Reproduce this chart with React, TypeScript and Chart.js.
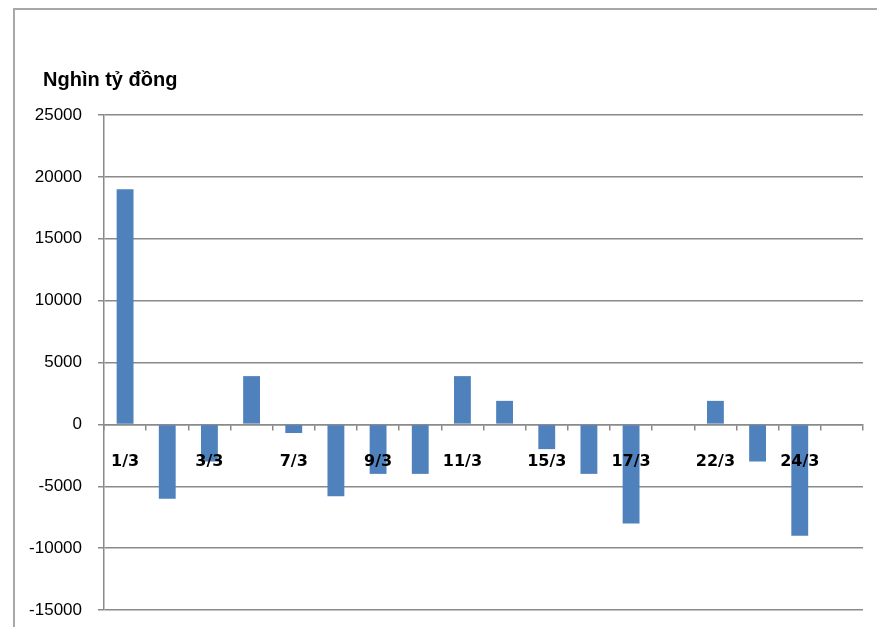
import React, { useEffect, useRef } from 'react';
import { Chart, registerables } from 'chart.js';

Chart.register(...registerables);

// Category labels (only every other trading day is labelled on the axis)
const categories: string[] = [
  '1/3', '', '3/3', '', '7/3', '', '9/3', '', '11/3', '', '15/3', '', '17/3', '', '22/3', '', '24/3', '',
];

// Net values, thousand billion VND
const values: (number | null)[] = [
  19000, -6000, -3000, 3900, -700, -5800, -4000, -4000, 3900, 1900, -2000, -4000, -8000, null, 1900, -3000, -9000, null,
];

const yMin = -15000;
const yMax = 25000;
const yStep = 5000;

const titleText = 'Nghìn tỷ đồng';

const GRID = '#8a8a8a';

// Let the y-axis labels extend to the left of the axis box without being clipped
const unclipYLabels = {
  id: 'unclipYLabels',
  afterLayout(chart: any) {
    const y = chart.scales.y;
    if (y) y.left = 0;
  },
};

export default function App() {
  const canvasRef = useRef<HTMLCanvasElement | null>(null);

  useEffect(() => {
    if (!canvasRef.current) return;
    const chart = new Chart(canvasRef.current, {
      type: 'bar',
      data: {
        labels: categories,
        datasets: [
          {
            data: values,
            backgroundColor: '#4F81BD',
            borderWidth: 0,
            barPercentage: 0.4,
            categoryPercentage: 1,
          },
        ],
      },
      options: {
        responsive: false,
        animation: false,
        layout: { padding: { left: 43, top: 50, right: 14, bottom: 17 } },
        plugins: {
          legend: { display: false },
          tooltip: { enabled: false },
          title: {
            display: true,
            text: titleText,
            align: 'start',
            color: '#000',
            font: { family: 'Liberation Sans', size: 20, weight: 'bold' },
            padding: { top: 18, bottom: 23 },
          },
        },
        scales: {
          x: {
            position: { y: 0 } as any,
            grid: {
              display: true,
              drawOnChartArea: false,
              drawTicks: true,
              tickLength: 5,
              color: GRID,
              lineWidth: 1.5,
              offset: true,
            },
            border: { display: true, color: GRID, width: 1.5 },
            ticks: {
              autoSkip: false,
              maxRotation: 0,
              minRotation: 0,
              color: '#000',
              padding: 23,
              z: 1,
              font: { family: 'DejaVu Sans', size: 16, weight: 'bold' },
            },
          },
          y: {
            min: yMin,
            max: yMax,
            ticks: {
              stepSize: yStep,
              color: '#000',
              padding: 16,
              font: { family: 'Liberation Sans', size: 17 },
              callback: (v: any) => String(v),
            },
            grid: { color: GRID, lineWidth: 1.5, tickLength: 6 },
            border: { display: true, color: GRID, width: 1.5 },
            afterFit: (s: any) => {
              s.width = 61;
              s.paddingTop = 0;
              s.paddingBottom = 0;
            },
          },
        },
      },
      plugins: [unclipYLabels],
    });
    return () => chart.destroy();
  }, []);

  return (
    <div style={{ position: 'absolute', left: 0, top: 0, width: 877, height: 627, background: '#fff' }}>
      <div
        style={{
          position: 'absolute',
          left: 13,
          top: 8,
          width: 864,
          height: 619,
          borderLeft: '2px solid #a8a8a8',
          borderTop: '2px solid #a8a8a8',
          boxSizing: 'border-box',
        }}
      />
      <canvas
        ref={canvasRef}
        width={877}
        height={627}
        style={{ position: 'absolute', left: 0, top: 0, display: 'block' }}
      />
    </div>
  );
}
